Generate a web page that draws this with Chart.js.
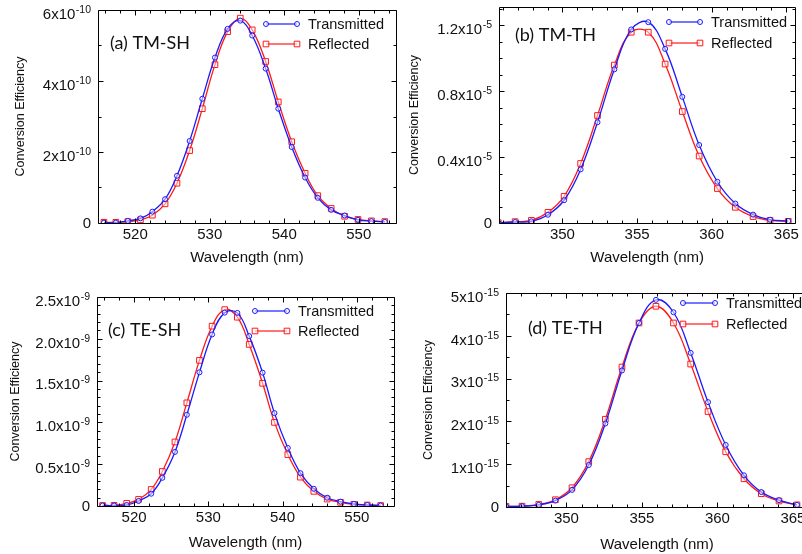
<!DOCTYPE html>
<html>
<head>
<meta charset="utf-8">
<title>Conversion efficiency</title>
<script src="https://cdn.jsdelivr.net/npm/chart.js@4.4.1/dist/chart.umd.min.js"></script>
<style>
    html, body {
        margin: 0;
        padding: 0;
        background: #ffffff;
        overflow: hidden;
    }

    #page {
        position: relative;
        width: 802px;
        height: 554px;
        overflow: hidden;
    }

    #page canvas {
        position: absolute;
    }
</style>
</head>
<body>
<div id="page">
    <canvas id="panelA" width="401" height="277" style="left:0px;top:0px"></canvas>
    <canvas id="panelB" width="401" height="277" style="left:401px;top:0px"></canvas>
    <canvas id="panelC" width="401" height="277" style="left:0px;top:277px"></canvas>
    <canvas id="panelD" width="420" height="277" style="left:401px;top:277px"></canvas>
</div>
<script>
"use strict";

// ---- data ----

const seriesNames = ["Transmitted", "Reflected"];

// (a) TM-SH, efficiency in units of 1e-10
const aWavelength = [515.8, 517.4, 519.0, 520.7, 522.3, 524.0, 525.6, 527.3, 529.0, 530.7, 532.4, 534.1, 535.7, 537.5, 539.2, 541.0, 542.8, 544.5, 546.3, 548.1, 549.9, 551.7, 553.5];
const aTransmitted = [0.01, 0.01, 0.06, 0.13, 0.32, 0.67, 1.33, 2.31, 3.50, 4.66, 5.47, 5.70, 5.28, 4.35, 3.22, 2.14, 1.28, 0.71, 0.37, 0.21, 0.09, 0.05, 0.03];
const aReflected = [0.02, 0.02, 0.04, 0.09, 0.22, 0.54, 1.12, 2.04, 3.22, 4.46, 5.39, 5.77, 5.44, 4.55, 3.41, 2.29, 1.40, 0.77, 0.41, 0.19, 0.10, 0.06, 0.04];
const aXTicks = [520, 530, 540, 550];
const aYTicks = [0, 2, 4, 6];
const aYTickLabels = ["0", "2x10", "4x10", "6x10"];
const aYTickPowers = ["", "-10", "-10", "-10"];

// (b) TM-TH, efficiency in units of 1e-5
const bWavelength = [345.7, 346.83, 347.92, 349.03, 350.11, 351.22, 352.35, 353.48, 354.61, 355.75, 356.88, 358.03, 359.16, 360.38, 361.58, 362.77, 363.91, 365.13];
const bTransmitted = [0.002, 0.006, 0.010, 0.050, 0.138, 0.325, 0.611, 0.932, 1.174, 1.218, 1.056, 0.765, 0.473, 0.250, 0.118, 0.051, 0.020, 0.012];
const bReflected = [0.002, 0.008, 0.016, 0.065, 0.162, 0.361, 0.652, 0.958, 1.157, 1.157, 0.964, 0.676, 0.406, 0.209, 0.095, 0.039, 0.016, 0.010];
const bXTicks = [350, 355, 360, 365];
const bYTicks = [0, 0.4, 0.8, 1.2];
const bYTickLabels = ["0", "0.4x10", "0.8x10", "1.2x10"];
const bYTickPowers = ["", "-5", "-5", "-5"];

// (c) TE-SH, efficiency in units of 1e-9
const cWavelength = [515.75, 517.3, 519.0, 520.6, 522.3, 523.8, 525.5, 527.1, 528.8, 530.5, 532.2, 533.9, 535.5, 537.3, 538.9, 540.7, 542.4, 544.2, 546.0, 547.8, 549.6, 551.4, 553.2];
const cTransmitted = [0.006, 0.006, 0.012, 0.060, 0.147, 0.337, 0.647, 1.091, 1.599, 2.052, 2.313, 2.310, 2.032, 1.595, 1.111, 0.694, 0.393, 0.206, 0.099, 0.052, 0.024, 0.012, 0.006];
const cReflected = [0.006, 0.008, 0.032, 0.079, 0.198, 0.413, 0.766, 1.234, 1.742, 2.151, 2.349, 2.258, 1.933, 1.468, 1.000, 0.615, 0.345, 0.175, 0.083, 0.044, 0.020, 0.012, 0.006];
const cXTicks = [520, 530, 540, 550];
const cYTicks = [0, 0.5, 1.0, 1.5, 2.0, 2.5];
const cYTickLabels = ["0", "0.5x10", "1.0x10", "1.5x10", "2.0x10", "2.5x10"];
const cYTickPowers = ["", "-9", "-9", "-9", "-9", "-9"];

// (d) TE-TH, efficiency in units of 1e-15
const dWavelength = [346.0, 347.06, 348.17, 349.27, 350.37, 351.48, 352.58, 353.68, 354.81, 355.93, 357.09, 358.23, 359.38, 360.55, 361.76, 362.91, 364.08, 365.27];
const dTransmitted = [0.015, 0.02, 0.05, 0.15, 0.40, 0.98, 1.95, 3.19, 4.30, 4.84, 4.55, 3.60, 2.45, 1.45, 0.74, 0.35, 0.16, 0.05];
const dReflected = [0.015, 0.02, 0.06, 0.17, 0.45, 1.06, 2.05, 3.27, 4.30, 4.69, 4.30, 3.34, 2.23, 1.29, 0.66, 0.31, 0.14, 0.05];
const dXTicks = [350, 355, 360, 365];
const dYTicks = [0, 1, 2, 3, 4, 5];
const dYTickLabels = ["0", "1x10", "2x10", "3x10", "4x10", "5x10"];
const dYTickPowers = ["", "-15", "-15", "-15", "-15", "-15"];

// ---- styling ----

const BLUE = "rgb(25, 25, 255)";
const RED = "rgb(255, 25, 25)";
const TEXT = "#111111";
const SANS = "'Liberation Sans', Arial, Helvetica, sans-serif";

Chart.defaults.font.family = SANS;
Chart.defaults.color = TEXT;

// box around the plot with inward major/minor ticks on all four sides
const frameTicksPlugin = {

    id: "frameTicks",

    afterDraw(chart, args, opts) {

        const ctx = chart.ctx;
        const area = chart.chartArea;
        const xs = chart.scales.x;
        const ys = chart.scales.y;

        const left = Math.round(area.left) + 0.5;
        const right = Math.round(area.right) + 0.5;
        const top = Math.round(area.top) + 0.5;
        const bottom = Math.round(area.bottom) + 0.5;

        ctx.save();
        ctx.strokeStyle = "#000000";
        ctx.lineWidth = 1;
        ctx.beginPath();
        ctx.rect(left, top, right - left, bottom - top);

        const isMajor = (v, majors, step) =>
            majors.some(m => Math.abs(m - v) < step * 0.05);

        // x ticks
        const xStep = opts.xMinorStep;
        for (let i = Math.ceil(xs.min / xStep); i * xStep <= xs.max + 1e-9; i++) {
            const v = i * xStep;
            const len = isMajor(v, opts.xMajors, xStep) ? 5 : 3;
            const px = Math.round(xs.getPixelForValue(v)) + 0.5;
            ctx.moveTo(px, bottom);
            ctx.lineTo(px, bottom - len);
            ctx.moveTo(px, top);
            ctx.lineTo(px, top + len);
        }

        // y ticks (counted in display units)
        const yStep = opts.yMinorStep;
        const unit = opts.unit;
        for (let i = 0; i * yStep <= ys.max / unit + 1e-9; i++) {
            const v = i * yStep;
            const len = isMajor(v, opts.yMajors, yStep) ? 5 : 3;
            const py = Math.round(ys.getPixelForValue(v * unit)) + 0.5;
            ctx.moveTo(left, py);
            ctx.lineTo(left + len, py);
            ctx.moveTo(right, py);
            ctx.lineTo(right - len, py);
        }

        ctx.stroke();

        // y tick labels as "mantissa x 10" with a raised power
        ctx.fillStyle = TEXT;
        ctx.textAlign = "right";
        ctx.textBaseline = "alphabetic";

        opts.yMajors.forEach((v, i) => {

            const py = ys.getPixelForValue(v * unit);
            const power = opts.yPowers[i];
            let xRight = area.left - 7;

            if (power) {
                ctx.font = "10.5px " + SANS;
                ctx.fillText(power, xRight, py + 2.8);
                xRight -= ctx.measureText(power).width + 0.5;
                ctx.font = "15px " + SANS;
                ctx.fillText(opts.yLabels[i], xRight, py + 8.8);
            } else {
                ctx.font = "15px " + SANS;
                ctx.fillText(opts.yLabels[i], xRight, py + 5.4);
            }
        });

        ctx.restore();
    }
};

// panel caption and the in-plot legend (line with a marker at each end)
const panelTextPlugin = {

    id: "panelText",

    afterDraw(chart, args, opts) {

        const ctx = chart.ctx;

        ctx.save();

        ctx.font = "18px Lato, 'Open Sans', sans-serif";
        ctx.fillStyle = TEXT;
        ctx.textAlign = "left";
        ctx.textBaseline = "middle";
        ctx.fillText(opts.caption, opts.captionX, opts.captionY);

        chart.data.datasets.forEach((ds, i) => {

            const y = opts.legendY[i];

            ctx.strokeStyle = ds.borderColor;
            ctx.lineWidth = 1.2;
            ctx.beginPath();
            ctx.moveTo(opts.legendX0, y);
            ctx.lineTo(opts.legendX1, y);
            ctx.stroke();

            [opts.legendX0, opts.legendX1].forEach(x => {
                ctx.beginPath();
                if (ds.pointStyle === "rect") {
                    ctx.rect(x - 2.8, y - 2.8, 5.6, 5.6);
                } else {
                    ctx.arc(x, y, 2.5, 0, Math.PI * 2);
                }
                ctx.fillStyle = "rgba(255,255,255,0.6)";
                ctx.fill();
                ctx.lineWidth = 1;
                ctx.stroke();
            });

            ctx.font = "14.5px " + SANS;
            ctx.fillStyle = TEXT;
            ctx.fillText(ds.label, opts.legendText, y + 0.5);
        });

        ctx.restore();
    }
};

const PanelController = {

    initialize() {

        this.createPanel("panelA", {
            wavelength: aWavelength,
            transmitted: aTransmitted,
            reflected: aReflected,
            unit: 1e-10,
            xMin: 515,
            xMax: 555,
            xTicks: aXTicks,
            xMinorStep: 2,
            yMax: 6,
            yTicks: aYTicks,
            yTickLabels: aYTickLabels,
            yTickPowers: aYTickPowers,
            yMinorStep: 1,
            padding: { top: 10, right: 4 },
            yAxisWidth: 98,
            xAxisHeight: 54,
            yTitlePad: 13,
            xTitlePad: 10,
            text: {
                caption: "(a) TM-SH", captionX: 110, captionY: 43,
                legendX0: 266, legendX1: 297, legendText: 308, legendY: [24, 44]
            }
        });

        this.createPanel("panelB", {
            wavelength: bWavelength,
            transmitted: bTransmitted,
            reflected: bReflected,
            unit: 1e-5,
            xMin: 345.75,
            xMax: 365.6,
            xTicks: bXTicks,
            xMinorStep: 1,
            yMax: 1.31,
            yTicks: bYTicks,
            yTickLabels: bYTickLabels,
            yTickPowers: bYTickPowers,
            yMinorStep: 0.1,
            padding: { top: 7, right: 4 },
            yAxisWidth: 98,
            xAxisHeight: 54,
            yTitlePad: 6.5,
            xTitlePad: 10,
            text: {
                caption: "(b) TM-TH", captionX: 114, captionY: 35,
                legendX0: 268, legendX1: 299, legendText: 310, legendY: [22, 43]
            }
        });

        this.createPanel("panelC", {
            wavelength: cWavelength,
            transmitted: cTransmitted,
            reflected: cReflected,
            unit: 1e-9,
            xMin: 515,
            xMax: 555,
            xTicks: cXTicks,
            xMinorStep: 2,
            yMax: 2.5,
            yTicks: cYTicks,
            yTickLabels: cYTickLabels,
            yTickPowers: cYTickPowers,
            yMinorStep: 0.1,
            padding: { top: 20, right: 7 },
            yAxisWidth: 97,
            xAxisHeight: 48,
            yTitlePad: 8.5,
            xTitlePad: 2,
            text: {
                caption: "(c) TE-SH", captionX: 108, captionY: 53,
                legendX0: 255, legendX1: 287, legendText: 298, legendY: [34, 54]
            }
        });

        this.createPanel("panelD", {
            wavelength: dWavelength,
            transmitted: dTransmitted,
            reflected: dReflected,
            unit: 1e-15,
            xMin: 346,
            xMax: 366,
            xTicks: dXTicks,
            xMinorStep: 1,
            yMax: 5,
            yTicks: dYTicks,
            yTickLabels: dYTickLabels,
            yTickPowers: dYTickPowers,
            yMinorStep: 0.5,
            padding: { top: 16, right: 13 },
            yAxisWidth: 105,
            xAxisHeight: 47,
            yTitlePad: 20,
            xTitlePad: 0,
            text: {
                caption: "(d) TE-TH", captionX: 127, captionY: 51,
                legendX0: 282, legendX1: 314, legendText: 325, legendY: [26, 47]
            }
        });
    },

    toPoints(xs, ys, unit) {

        return xs.map((x, i) => ({ x: x, y: ys[i] * unit }));
    },

    createPanel(canvasId, panel) {

        const canvas = document.getElementById(canvasId);

        if (!canvas) {
            return;
        }

        const lineStyle = {
            borderWidth: 1.3,
            tension: 0.4,
            pointBorderWidth: 1,
            pointBackgroundColor: "rgba(255,255,255,0.5)",
            fill: false
        };

        new Chart(canvas, {

            type: "line",

            data: {
                datasets: [
                    Object.assign({}, lineStyle, {
                        label: seriesNames[0],
                        data: this.toPoints(panel.wavelength, panel.transmitted, panel.unit),
                        borderColor: BLUE,
                        pointBorderColor: BLUE,
                        pointStyle: "circle",
                        pointRadius: 2.5
                    }),
                    Object.assign({}, lineStyle, {
                        label: seriesNames[1],
                        data: this.toPoints(panel.wavelength, panel.reflected, panel.unit),
                        borderColor: RED,
                        pointBorderColor: RED,
                        pointStyle: "rect",
                        pointRadius: 4
                    })
                ]
            },

            options: {

                responsive: false,
                animation: false,
                events: [],

                layout: {
                    padding: {
                        top: panel.padding.top,
                        right: panel.padding.right,
                        left: 0,
                        bottom: 0
                    }
                },

                plugins: {
                    legend: { display: false },
                    tooltip: { enabled: false },
                    frameTicks: {
                        unit: panel.unit,
                        xMajors: panel.xTicks,
                        xMinorStep: panel.xMinorStep,
                        yMajors: panel.yTicks,
                        yMinorStep: panel.yMinorStep,
                        yLabels: panel.yTickLabels,
                        yPowers: panel.yTickPowers
                    },
                    panelText: panel.text
                },

                scales: {

                    x: {
                        type: "linear",
                        min: panel.xMin,
                        max: panel.xMax,
                        grid: { display: false, drawTicks: false },
                        border: { display: false },
                        afterBuildTicks: scale => {
                            scale.ticks = panel.xTicks.map(v => ({ value: v }));
                        },
                        afterFit: scale => {
                            scale.height = panel.xAxisHeight;
                        },
                        ticks: {
                            autoSkip: false,
                            maxRotation: 0,
                            padding: 3,
                            font: { size: 15 },
                            callback: value => String(value)
                        },
                        title: {
                            display: true,
                            text: "Wavelength (nm)",
                            font: { size: 15 },
                            padding: { top: 0, bottom: panel.xTitlePad }
                        }
                    },

                    y: {
                        type: "linear",
                        min: 0,
                        max: panel.yMax * panel.unit,
                        grid: { display: false, drawTicks: false },
                        border: { display: false },
                        afterBuildTicks: scale => {
                            scale.ticks = panel.yTicks.map(v => ({ value: v * panel.unit }));
                        },
                        afterFit: scale => {
                            scale.width = panel.yAxisWidth;
                        },
                        ticks: {
                            display: false
                        },
                        title: {
                            display: true,
                            text: "Conversion Efficiency",
                            font: { size: 12.5 },
                            padding: { top: panel.yTitlePad, bottom: 0 }
                        }
                    }
                }
            },

            plugins: [frameTicksPlugin, panelTextPlugin]
        });
    }
};

document.addEventListener("DOMContentLoaded", () => {

    try {
        PanelController.initialize();
    } catch (error) {
        console.error("Panel initialization failed", error);
    }
});
</script>
</body>
</html>
